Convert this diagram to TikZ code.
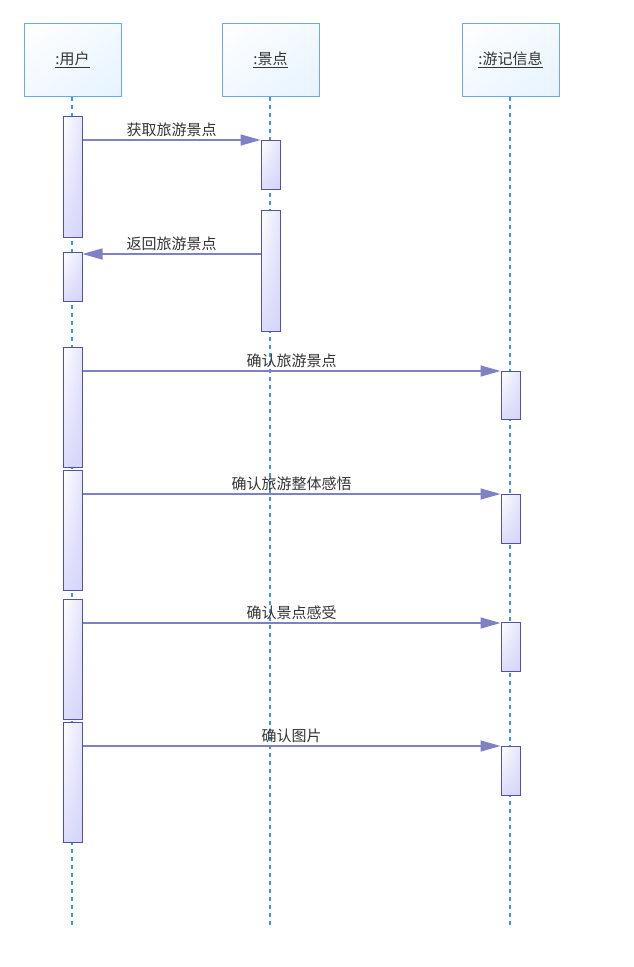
\documentclass[tikz,border=0pt]{standalone}
\usepackage{fontspec}
\setmainfont{Noto Sans CJK SC}
\usetikzlibrary{arrows.meta,shadings}
\definecolor{lifeblue}{HTML}{3399FF}
\definecolor{headborder}{HTML}{66AAF0}
\definecolor{headfillA}{HTML}{FFFFFF}
\definecolor{headfillB}{HTML}{E6F3FF}
\definecolor{headfillC}{HTML}{F2F9FF}
\definecolor{actborder}{HTML}{5252A0}
\definecolor{actfill}{HTML}{D4D4FA}
\definecolor{msgcol}{HTML}{8080C4}
\definecolor{txt}{HTML}{333333}
\tikzset{
  every node/.style={font=\fontsize{15}{17}\selectfont, text=txt},
  headbox/.style={draw=headborder, line width=1pt, minimum width=97pt, minimum height=73pt, anchor=north, inner sep=0pt,
    upper left=headfillA, upper right=headfillC, lower left=headfillC, lower right=headfillB},
  lifeline/.style={draw=lifeblue, line width=1.5pt, dash pattern=on 4pt off 4pt},
  actbox/.style={draw=actborder, line width=1pt, minimum width=19pt, anchor=north, inner sep=0pt,
    upper left=white, lower left=actfill!80, upper right=actfill!60, lower right=actfill},
  msg/.style={draw=msgcol, line width=1.5pt, -{Triangle[length=20pt,width=11pt,fill=msgcol]}},
  lbl/.style={midway, above=1.5pt, inner sep=1pt}
}
\begin{document}
\begin{tikzpicture}[x=1pt,y=-1pt]
\useasboundingbox (0,0) rectangle (634,967);
% headers
\node[headbox] (hu) at (72.5,23) {\underline{:用户}};
\node[headbox] (hs) at (270.5,23) {\underline{:景点}};
\node[headbox] (hy) at (510.5,23) {\underline{:游记信息}};
% lifeline ends
\coordinate (eu) at (72,927);
\coordinate (es) at (270,927);
\coordinate (ey) at (510,927);
\draw[lifeline] (hu.south -| eu) -- (eu);
\draw[lifeline] (hs.south -| es) -- (es);
\draw[lifeline] (hy.south -| ey) -- (ey);
% activation boxes: user
\node[actbox, minimum height=121pt] (u1) at (72.5,116) {};
\node[actbox, minimum height=49pt] (u2) at (72.5,252) {};
\node[actbox, minimum height=120pt] (u3) at (72.5,347) {};
\node[actbox, minimum height=120pt] (u4) at (72.5,470) {};
\node[actbox, minimum height=120pt] (u5) at (72.5,599) {};
\node[actbox, minimum height=120pt] (u6) at (72.5,722) {};
% activation boxes: 景点
\node[actbox, minimum height=49pt] (s1) at (270.5,140) {};
\node[actbox, minimum height=121pt] (s2) at (270.5,210) {};
% activation boxes: 游记信息
\node[actbox, minimum height=48pt] (y1) at (510.5,371) {};
\node[actbox, minimum height=49pt] (y2) at (510.5,494) {};
\node[actbox, minimum height=49pt] (y3) at (510.5,622) {};
\node[actbox, minimum height=49pt] (y4) at (510.5,746) {};
% messages
\draw[msg] (u1.east |- s1.north west) -- node[lbl] {获取旅游景点} (s1.north west);
\coordinate (r2) at ([yshift=-2pt]u2.north east);
\draw[msg] (s2.west |- r2) -- node[lbl] {返回旅游景点} (r2);
\draw[msg] (u3.east |- y1.north west) -- node[lbl] {确认旅游景点} (y1.north west);
\draw[msg] (u4.east |- y2.north west) -- node[lbl] {确认旅游整体感悟} (y2.north west);
\coordinate (m3) at ([yshift=-1pt]y3.north west);
\draw[msg] (u5.east |- m3) -- node[lbl] {确认景点感受} (m3);
\draw[msg] (u6.east |- y4.north west) -- node[lbl] {确认图片} (y4.north west);
\end{tikzpicture}
\end{document}
